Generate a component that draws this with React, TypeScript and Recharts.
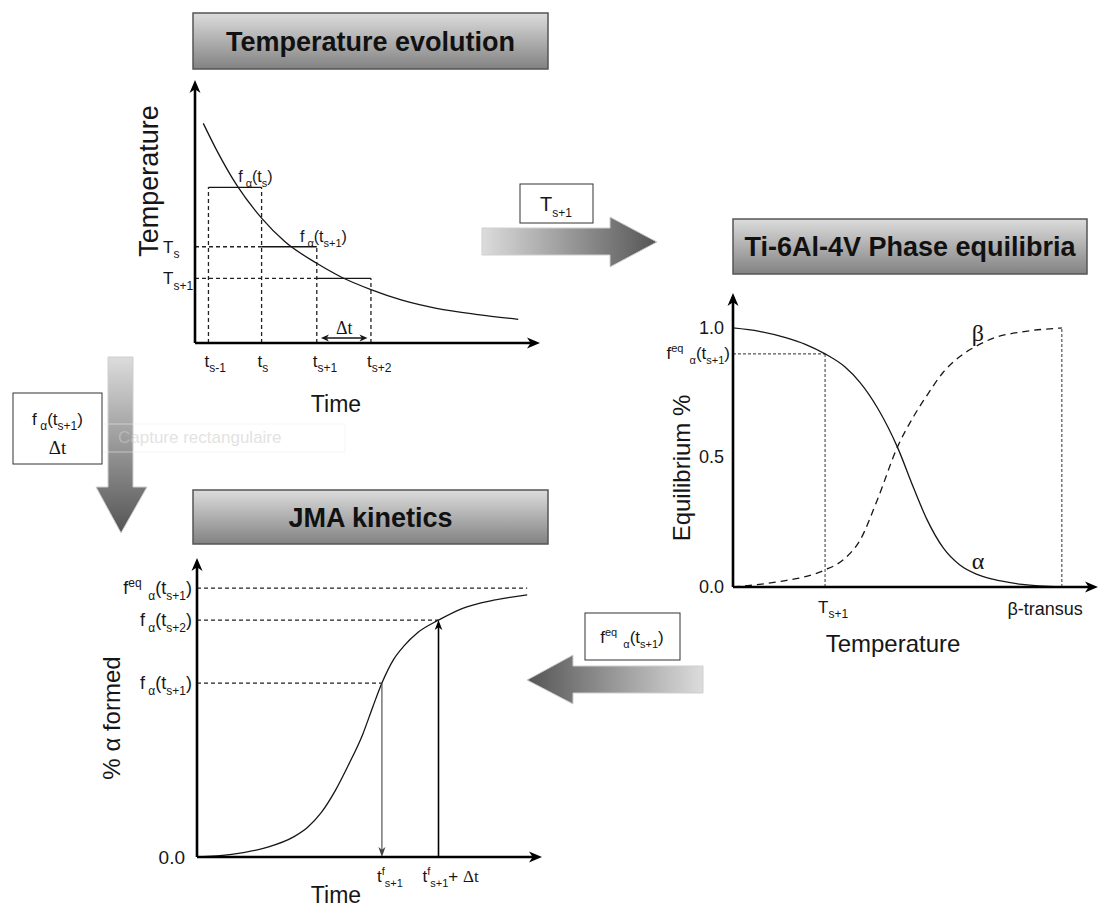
import React from 'react';
import { ComposedChart, Line, XAxis, YAxis, ReferenceLine, ReferenceDot } from 'recharts';

const W = 1099;
const H = 913;
const SANS = '"Liberation Sans", Arial, Helvetica, sans-serif';
const SERIF = '"Liberation Serif", "Times New Roman", serif';
const INK = '#161616';

// ---------------- Panel 1 : Temperature evolution ----------------
const tempTime = [2.4, 6, 12.1, 19.3, 26.1, 35.3, 42.5, 51, 60, 70, 82, 93.7];
const tempValue = [83.5, 74, 60, 47.5, 38.5, 30.3, 25, 20.3, 16.3, 13.2, 10.8, 9.0];
const stepTimes = [3.9, 19.3, 35.3, 51];
const stepLevels = [59.2, 36.6, 24.6];
const stepLabels = ['f_{ α}(t_{s})', 'f_{ α}(t_{s+1})'];
const stepLabelTimes = [12.5, 30.4];
const timeTickLabels = ['t_{s-1}', 't_{s}', 't_{s+1}', 't_{s+2}'];
const tempTicks = [36.6, 24.6];
const tempTickLabels = ['T_{s}', 'T_{s+1}'];
const deltaSpan = [36.5, 50];
const deltaLevel = 1.9;

// ---------------- Panel 2 : Ti-6Al-4V phase equilibria ----------------
const phaseTemp = [0, 8, 16, 22, 28, 34, 38.6, 44, 50, 55, 59, 64, 69, 74, 79, 88, 100];
const alphaEq = [1.0, 0.987, 0.963, 0.937, 0.9, 0.85, 0.79, 0.69, 0.54, 0.38, 0.26, 0.15, 0.085, 0.05, 0.03, 0.01, 0.0];
const betaEq = [0, 0.01, 0.025, 0.04, 0.066, 0.11, 0.18, 0.34, 0.54, 0.66, 0.74, 0.83, 0.89, 0.93, 0.96, 0.985, 1.0];
const phaseTicks = [0, 0.5, 0.9, 1.0];
const phaseTickLabels = ['0.0', '0.5', 'f^{eq}_{  α}(t_{s+1})', '1.0'];
const phaseXTicks = [28, 100];
const phaseXTickLabels = ['T_{s+1}', 'β-transus'];
const feqLevel = 0.9;
const nextTemp = 28;
const betaTransus = 100;
const alphaLabelAt = { x: 74.5, y: 0.097 };
const betaLabelAt = { x: 74.5, y: 0.98 };

// ---------------- Panel 3 : JMA kinetics ----------------
const jmaTime = [0, 10, 20, 28, 32, 36, 40, 44, 48, 51, 53.6, 57, 60, 64, 70, 77, 86, 95.7];
const jmaFrac = [0, 0.01, 0.035, 0.075, 0.11, 0.165, 0.245, 0.345, 0.455, 0.56, 0.647, 0.735, 0.785, 0.835, 0.881, 0.925, 0.955, 0.975];
const jmaTicks = [0, 0.647, 0.881, 1.0];
const jmaTickLabels = ['0.0', 'f_{ α}(t_{s+1})', 'f_{ α}(t_{s+2})', 'f^{eq}_{  α}(t_{s+1})'];
const jmaXTicks = [53.6, 70];
const jmaXTickLabels = ['t^{f}_{s+1}', 't^{f}_{s+1}+ ~{Δt}'];
const jmaEnd = 95.7;

const tempData = tempTime.map((t, i) => ({ t, T: tempValue[i] }));
const phaseData = phaseTemp.map((x, i) => ({ x, alpha: alphaEq[i], beta: betaEq[i] }));
const jmaData = jmaTime.map((t, i) => ({ t, f: jmaFrac[i] }));

// ---------------- rich text helpers ----------------
type Seg = { t: string; k: 'n' | 'b' | 'p' | 's' };
function parse(str: string): Seg[] {
  const out: Seg[] = [];
  const re = /([_^~])\{([^}]*)\}/g;
  let last = 0;
  let m: RegExpExecArray | null;
  while ((m = re.exec(str))) {
    if (m.index > last) out.push({ t: str.slice(last, m.index), k: 'n' });
    out.push({ t: m[2], k: m[1] === '_' ? 'b' : m[1] === '^' ? 'p' : 's' });
    last = re.lastIndex;
  }
  if (last < str.length) out.push({ t: str.slice(last), k: 'n' });
  return out;
}

function Rich({ x, y, text, size = 16, small, anchor = 'start', fill = INK, family = SANS }: any) {
  const sm = small ?? Math.round(size * 0.7);
  const off: any = { n: 0, s: 0, b: size * 0.32, p: -size * 0.4 };
  let cur = 0;
  const segs = parse(text);
  return (
    <text x={x} y={y} fontSize={size} fontFamily={family} textAnchor={anchor} fill={fill} style={{ whiteSpace: 'pre' }}>
      {segs.map((s, i) => {
        const dy = off[s.k] - cur;
        cur = off[s.k];
        return (
          <tspan key={i} dy={dy} fontSize={s.k === 'b' || s.k === 'p' ? sm : size} fontFamily={s.k === 's' ? SERIF : undefined}>
            {s.t}
          </tspan>
        );
      })}
    </text>
  );
}

type TickOpt = { dx: number; dy: number; anchor: string; size: number; small?: number };
function makeTick(ticks: number[], labels: string[], opts: TickOpt[]) {
  return (props: any) => {
    const v = props.payload?.value;
    let i = ticks.indexOf(v);
    if (i < 0) i = ticks.findIndex((t) => Math.abs(t - Number(v)) < 1e-6);
    if (i < 0) return <g />;
    const o = opts[i];
    return <Rich x={props.x + o.dx} y={props.y + o.dy} text={labels[i]} size={o.size} small={o.small} anchor={o.anchor} />;
  };
}

function arrowShape(o: { start?: boolean; end?: boolean; stroke?: string; width?: number; head?: number; half?: number; label?: string }) {
  const { start = false, end = true, stroke = INK, width = 1.2, head = 9, half = 4 } = o;
  return (p: any) => {
    const { x1, y1, x2, y2 } = p;
    const dx = x2 - x1;
    const dy = y2 - y1;
    const L = Math.hypot(dx, dy) || 1;
    const ux = dx / L;
    const uy = dy / L;
    const nx = -uy;
    const ny = ux;
    const hp = (tx: number, ty: number, sx: number, sy: number) => {
      const bx = tx - sx * head;
      const by = ty - sy * head;
      const cx = tx - sx * head * 0.72;
      const cy = ty - sy * head * 0.72;
      return `M${tx},${ty} L${bx + nx * half},${by + ny * half} L${cx},${cy} L${bx - nx * half},${by - ny * half} Z`;
    };
    const sx1 = start ? x1 + ux * head * 0.7 : x1;
    const sy1 = start ? y1 + uy * head * 0.7 : y1;
    const sx2 = end ? x2 - ux * head * 0.7 : x2;
    const sy2 = end ? y2 - uy * head * 0.7 : y2;
    return (
      <g>
        <line x1={sx1} y1={sy1} x2={sx2} y2={sy2} stroke={stroke} strokeWidth={width} />
        {end && <path d={hp(x2, y2, ux, uy)} fill={stroke} />}
        {start && <path d={hp(x1, y1, -ux, -uy)} fill={stroke} />}
        {o.label && <Rich x={(x1 + x2) / 2} y={(y1 + y2) / 2 - 4} text={o.label} size={18} anchor="middle" />}
      </g>
    );
  };
}

const axisArrow = arrowShape({ stroke: '#000', width: 2.6, head: 13, half: 5.5 });
const dashStyle = { stroke: '#222', strokeWidth: 1.3, strokeDasharray: '4 3' };
const dotStyle = { stroke: '#555', strokeWidth: 1.2, strokeDasharray: '3 2' };

const noAxis = { axisLine: false, tickLine: false, tickSize: 0, tickMargin: 0, interval: 0 as const };

// chart margins so the plot spans the given page box (axes are 1px so Recharts still renders ticks)
function plotMargin(left: number, top: number, right: number, bottom: number) {
  return { left: left - 1, top, right: W - right, bottom: H - bottom - 1 };
}

// ---------------- Panel charts ----------------
function TempChart() {
  const xOpts = timeTickLabels.map(() => ({ dx: -4, dy: 24, anchor: 'start', size: 17, small: 12 }));
  const yOpts = tempTickLabels.map(() => ({ dx: -32, dy: 6, anchor: 'start', size: 17, small: 12 }));
  const vTops = stepTimes.map((_, i) => Math.max(stepLevels[i - 1] ?? 0, stepLevels[i] ?? 0));
  return (
    <ComposedChart width={W} height={H} data={tempData} margin={plotMargin(195, 80, 540, 343)}>
      <XAxis type="number" dataKey="t" domain={[0, 100]} ticks={stepTimes} height={1} tick={makeTick(stepTimes, timeTickLabels, xOpts)} {...noAxis} />
      <YAxis type="number" domain={[0, 100]} ticks={tempTicks} width={1} tick={makeTick(tempTicks, tempTickLabels, yOpts)} {...noAxis} />
      {stepTimes.map((t, i) => (
        <ReferenceLine key={'v' + i} segment={[{ x: t, y: 0 }, { x: t, y: vTops[i] }]} ifOverflow="visible" {...dashStyle} />
      ))}
      {stepLevels.map((lv, i) =>
        i > 0 ? (
          <ReferenceLine key={'h' + i} segment={[{ x: 0, y: lv }, { x: stepTimes[i], y: lv }]} ifOverflow="visible" {...dashStyle} />
        ) : null
      )}
      {stepLevels.map((lv, i) => (
        <ReferenceLine key={'s' + i} segment={[{ x: stepTimes[i], y: lv }, { x: stepTimes[i + 1], y: lv }]} ifOverflow="visible" stroke={INK} strokeWidth={1.3} />
      ))}
      {stepLabels.map((lab, i) => (
        <ReferenceDot
          key={'l' + i}
          x={stepLabelTimes[i]}
          y={stepLevels[i]}
          r={0}
          ifOverflow="visible"
          shape={(p: any) => <Rich x={p.cx} y={p.cy - 5} text={lab} size={16} small={11} />}
        />
      ))}
      <Line dataKey="T" type="monotone" dot={false} stroke={INK} strokeWidth={1.3} isAnimationActive={false} />
      <ReferenceLine
        segment={[{ x: deltaSpan[0], y: deltaLevel }, { x: deltaSpan[1], y: deltaLevel }]}
        ifOverflow="visible"
        shape={arrowShape({ start: true, end: true, width: 1.3, head: 8, half: 3.5, label: '~{Δt}' })}
      />
      <ReferenceLine segment={[{ x: 0, y: 0 }, { x: 0, y: 100 }]} ifOverflow="visible" shape={axisArrow} />
      <ReferenceLine segment={[{ x: 0, y: 0 }, { x: 100, y: 0 }]} ifOverflow="visible" shape={axisArrow} />
    </ComposedChart>
  );
}

function PhaseChart() {
  const yOpts = phaseTickLabels.map((l) =>
    /^[0-9.]+$/.test(l) ? { dx: -9, dy: 6, anchor: 'end', size: 18 } : { dx: -3, dy: 5, anchor: 'end', size: 17, small: 11 }
  );
  const xOpts = [
    { dx: -7, dy: 26, anchor: 'start', size: 17, small: 12 },
    { dx: 21, dy: 28, anchor: 'end', size: 18 },
  ];
  return (
    <ComposedChart width={W} height={H} data={phaseData} margin={plotMargin(733, 293, 1098, 587)}>
      <XAxis type="number" dataKey="x" domain={[0, 111]} ticks={phaseXTicks} height={1} tick={makeTick(phaseXTicks, phaseXTickLabels, xOpts)} {...noAxis} />
      <YAxis type="number" domain={[0, 1.135]} ticks={phaseTicks} width={1} tick={makeTick(phaseTicks, phaseTickLabels, yOpts)} {...noAxis} />
      <ReferenceLine segment={[{ x: 0, y: feqLevel }, { x: nextTemp, y: feqLevel }]} ifOverflow="visible" {...dotStyle} />
      <ReferenceLine segment={[{ x: nextTemp, y: 0 }, { x: nextTemp, y: feqLevel }]} ifOverflow="visible" {...dotStyle} />
      <ReferenceLine segment={[{ x: betaTransus, y: 0 }, { x: betaTransus, y: 1 }]} ifOverflow="visible" {...dotStyle} />
      <Line dataKey="alpha" type="monotone" dot={false} stroke={INK} strokeWidth={1.3} isAnimationActive={false} />
      <Line dataKey="beta" type="monotone" dot={false} stroke={INK} strokeWidth={1.3} strokeDasharray="7 5" isAnimationActive={false} />
      <ReferenceDot x={alphaLabelAt.x} y={alphaLabelAt.y} r={0} ifOverflow="visible"
        shape={(p: any) => <text x={p.cx} y={p.cy + 7} fontFamily={SERIF} fontSize={24} textAnchor="middle" fill={INK}>α</text>} />
      <ReferenceDot x={betaLabelAt.x} y={betaLabelAt.y} r={0} ifOverflow="visible"
        shape={(p: any) => <text x={p.cx} y={p.cy + 8} fontFamily={SERIF} fontSize={24} textAnchor="middle" fill={INK}>β</text>} />
      <ReferenceLine segment={[{ x: 0, y: 0 }, { x: 0, y: 1.135 }]} ifOverflow="visible" shape={axisArrow} />
      <ReferenceLine segment={[{ x: 0, y: 0 }, { x: 111, y: 0 }]} ifOverflow="visible" shape={axisArrow} />
    </ComposedChart>
  );
}

function JmaChart() {
  const yOpts = jmaTickLabels.map((l) =>
    /^[0-9.]+$/.test(l) ? { dx: -12, dy: 7, anchor: 'end', size: 19 } : { dx: -5, dy: 6, anchor: 'end', size: 18, small: 12 }
  );
  const xOpts = [
    { dx: -5, dy: 25, anchor: 'start', size: 17, small: 11 },
    { dx: -16, dy: 25, anchor: 'start', size: 17, small: 11 },
  ];
  return (
    <ComposedChart width={W} height={H} data={jmaData} margin={plotMargin(197, 558, 542, 857)}>
      <XAxis type="number" dataKey="t" domain={[0, 100]} ticks={jmaXTicks} height={1} tick={makeTick(jmaXTicks, jmaXTickLabels, xOpts)} {...noAxis} />
      <YAxis type="number" domain={[0, 1.112]} ticks={jmaTicks} width={1} tick={makeTick(jmaTicks, jmaTickLabels, yOpts)} {...noAxis} />
      <ReferenceLine segment={[{ x: 0, y: jmaTicks[3] }, { x: jmaEnd, y: jmaTicks[3] }]} ifOverflow="visible" {...dashStyle} />
      <ReferenceLine segment={[{ x: 0, y: jmaTicks[2] }, { x: jmaXTicks[1], y: jmaTicks[2] }]} ifOverflow="visible" {...dashStyle} />
      <ReferenceLine segment={[{ x: 0, y: jmaTicks[1] }, { x: jmaXTicks[0], y: jmaTicks[1] }]} ifOverflow="visible" {...dashStyle} />
      <Line dataKey="f" type="monotone" dot={false} stroke={INK} strokeWidth={1.3} isAnimationActive={false} />
      <ReferenceLine segment={[{ x: jmaXTicks[0], y: jmaTicks[1] }, { x: jmaXTicks[0], y: 0 }]} ifOverflow="visible"
        shape={arrowShape({ stroke: '#444', width: 1.1, head: 10, half: 3.5 })} />
      <ReferenceLine segment={[{ x: jmaXTicks[1], y: 0 }, { x: jmaXTicks[1], y: jmaTicks[2] }]} ifOverflow="visible"
        shape={arrowShape({ stroke: '#000', width: 1.6, head: 10, half: 3.8 })} />
      <ReferenceLine segment={[{ x: 0, y: 0 }, { x: 0, y: 1.112 }]} ifOverflow="visible" shape={axisArrow} />
      <ReferenceLine segment={[{ x: 0, y: 0 }, { x: 100, y: 0 }]} ifOverflow="visible" shape={axisArrow} />
    </ComposedChart>
  );
}

// ---------------- decorations ----------------
function TitleBox({ x, y, w, h, text }: any) {
  return (
    <g>
      <rect x={x} y={y} width={w} height={h} fill="url(#titleGrad)" stroke="#555" strokeWidth={1.5} />
      <text x={x + w / 2} y={y + h / 2 + 9.5} textAnchor="middle" fontFamily={SANS} fontWeight="bold" fontSize={27} fill="#111">
        {text}
      </text>
    </g>
  );
}

function Overlay() {
  return (
    <svg width={W} height={H} style={{ position: 'absolute', left: 0, top: 0 }}>
      <defs>
        <linearGradient id="titleGrad" x1="0" y1="0" x2="0" y2="1">
          <stop offset="0" stopColor="#dcdcdc" />
          <stop offset="1" stopColor="#828282" />
        </linearGradient>
        <linearGradient id="gRight" gradientUnits="userSpaceOnUse" x1="482" y1="0" x2="657" y2="0">
          <stop offset="0" stopColor="#dcdcdc" />
          <stop offset="1" stopColor="#555" />
        </linearGradient>
        <linearGradient id="gDown" gradientUnits="userSpaceOnUse" x1="0" y1="357" x2="0" y2="533">
          <stop offset="0" stopColor="#dcdcdc" />
          <stop offset="1" stopColor="#555" />
        </linearGradient>
        <linearGradient id="gLeft" gradientUnits="userSpaceOnUse" x1="703" y1="0" x2="527" y2="0">
          <stop offset="0" stopColor="#dcdcdc" />
          <stop offset="1" stopColor="#555" />
        </linearGradient>
      </defs>

      <TitleBox x={193} y={13} w={355} h={56} text="Temperature evolution" />
      <TitleBox x={733} y={219} w={354} h={55} text="Ti-6Al-4V Phase equilibria" />
      <TitleBox x={193} y={490} w={355} h={54} text="JMA kinetics" />

      {/* flow arrows */}
      <path d="M482,228 L610,228 L610,217 L657,242 L610,267 L610,255 L482,255 Z" fill="url(#gRight)" stroke="#cfcfcf" strokeWidth={1} />
      <path d="M108,357 L133,357 L133,487 L147,487 L121,533 L96,487 L108,487 Z" fill="url(#gDown)" stroke="#cfcfcf" strokeWidth={1} />
      <path d="M703,666 L573,666 L573,655 L527,680 L573,704 L573,693 L703,693 Z" fill="url(#gLeft)" stroke="#cfcfcf" strokeWidth={1} />

      {/* faint screen-capture watermark */}
      <g opacity={0.55}>
        <rect x={82} y={424} width={263} height={28} fill="none" stroke="#eeeeee" strokeWidth={1} />
        <circle cx={90} cy={437} r={5} fill="#dddddd" />
        <text x={118} y={443} fontFamily={SANS} fontSize={17} fill="#cccccc">Capture rectangulaire</text>
      </g>

      {/* value boxes */}
      <rect x={13} y={393} width={89} height={71} fill="#fff" stroke="#333" strokeWidth={1} />
      <Rich x={57.5} y={425} text="f_{ α}(t_{s+1})" size={17} small={12} anchor="middle" />
      <Rich x={57.5} y={454} text="~{Δt}" size={19} anchor="middle" />

      <rect x={520} y={184} width={73} height={39} fill="#fff" stroke="#333" strokeWidth={1} />
      <Rich x={556} y={211} text="T_{s+1}" size={20} small={12} anchor="middle" />

      <rect x={585} y={613} width={95} height={47} fill="#fff" stroke="#333" strokeWidth={1} />
      <Rich x={632} y={643} text="f^{eq}_{  α}(t_{s+1})" size={17} small={11} anchor="middle" />

      {/* axis titles */}
      <text transform="translate(158,181) rotate(-90)" textAnchor="middle" fontFamily={SANS} fontSize={27} fill={INK}>Temperature</text>
      <text x={336} y={412} textAnchor="middle" fontFamily={SANS} fontSize={23} fill={INK}>Time</text>

      <text transform="translate(690,468) rotate(-90)" textAnchor="middle" fontFamily={SANS} fontSize={24} fill={INK}>Equilibrium %</text>
      <text x={893} y={652} textAnchor="middle" fontFamily={SANS} fontSize={24} fill={INK}>Temperature</text>

      <text transform="translate(120,718) rotate(-90)" textAnchor="middle" fontFamily={SANS} fontSize={24} fill={INK}>% α formed</text>
      <text x={336} y={903} textAnchor="middle" fontFamily={SANS} fontSize={23} fill={INK}>Time</text>
    </svg>
  );
}

const layer: React.CSSProperties = { position: 'absolute', left: 0, top: 0 };

export default function App() {
  return (
    <div style={{ position: 'absolute', left: 0, top: 0, width: W, height: H, background: '#fff', overflow: 'hidden' }}>
      <Overlay />
      <div style={layer}><TempChart /></div>
      <div style={layer}><PhaseChart /></div>
      <div style={layer}><JmaChart /></div>
    </div>
  );
}
